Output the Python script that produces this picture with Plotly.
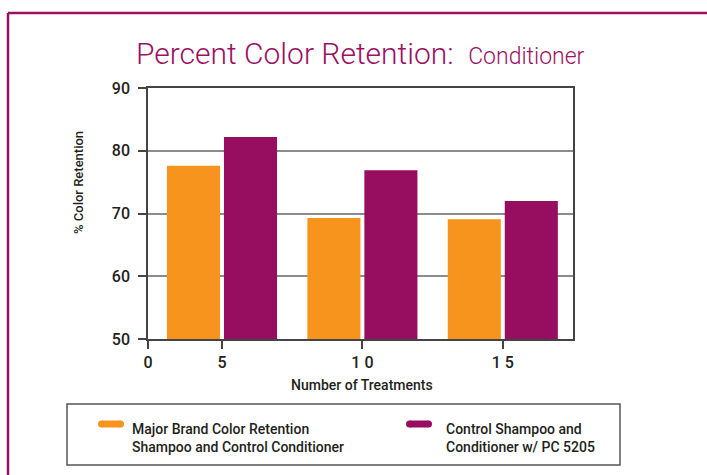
import plotly.graph_objects as go

# ---- data ----
treatments = ["5", "10", "15"]
series_names = [
    "Major Brand Color Retention<br>Shampoo and Control Conditioner",
    "Control Shampoo and<br>Conditioner w/ PC 5205",
]
major_brand = [77.6, 69.3, 69.1]
pc5205 = [82.2, 76.9, 72.0]
x_tick_labels = ["0", "5", "1 0", "1 5"]
y_tick_vals = [50, 60, 70, 80, 90]

ORANGE = "#F7941E"
PURPLE = "#970D5F"
MAGENTA = "#9B1063"
TXT = "#231F20"
FONT = "Roboto, Liberation Sans, sans-serif"

W, H = 707, 475
L, R, T, B = 148, 573, 88, 339  # plot area pixel box


def px(x):
    return (x - L) / (R - L)


def py(y):
    return (B - y) / (B - T)


xpos = list(range(1, len(treatments) + 1))

fig = go.Figure()
fig.add_trace(go.Bar(x=xpos, y=major_brand, name=series_names[0],
                     marker=dict(color=ORANGE, line=dict(width=0)),
                     width=0.378, offset=-0.392))
fig.add_trace(go.Bar(x=xpos, y=pc5205, name=series_names[1],
                     marker=dict(color=PURPLE, line=dict(width=0)),
                     width=0.378, offset=0.014))

fig.update_layout(
    width=W, height=H,
    margin=dict(l=L, r=W - R, t=T, b=H - B),
    paper_bgcolor="white", plot_bgcolor="white",
    showlegend=False,
    barmode="overlay",
    font=dict(family=FONT, color=TXT),
)

fig.update_xaxes(
    range=[0.473, 3.5],
    tickmode="array", tickvals=[0.473] + xpos, ticktext=x_tick_labels,
    ticks="outside", ticklen=8, tickwidth=1.5, tickcolor="#444",
    showline=True, linecolor="#444", linewidth=1.5, mirror=True,
    showgrid=False, zeroline=False,
    tickfont=dict(size=16, color=TXT, family=FONT, weight=500),
)
fig.update_yaxes(
    range=[50, 90],
    tickmode="array", tickvals=y_tick_vals,
    ticks="outside", ticklen=8, tickwidth=1.5, tickcolor="#444",
    showline=True, linecolor="#444", linewidth=1.5, mirror=True,
    showgrid=True, gridcolor="#8C8C8C", gridwidth=2, zeroline=False,
    tickfont=dict(size=16, color=TXT, family=FONT, weight=500),
    ticklabelstandoff=5,
)


def pill(x0, x1, yc, thick, color):
    r = thick / 2
    return [
        dict(type="line", xref="paper", yref="paper", x0=px(x0 + r), x1=px(x1 - r),
             y0=py(yc), y1=py(yc), line=dict(color=color, width=thick)),
        dict(type="circle", xref="paper", yref="paper", x0=px(x0), x1=px(x0 + 2 * r),
             y0=py(yc - r), y1=py(yc + r), fillcolor=color, line=dict(width=0)),
        dict(type="circle", xref="paper", yref="paper", x0=px(x1 - 2 * r), x1=px(x1),
             y0=py(yc - r), y1=py(yc + r), fillcolor=color, line=dict(width=0)),
    ]


shapes = [
    # outer magenta frame
    dict(type="line", xref="paper", yref="paper", x0=px(8), x1=px(720), y0=py(13), y1=py(13),
         line=dict(color=MAGENTA, width=2.5)),
    dict(type="line", xref="paper", yref="paper", x0=px(8), x1=px(8), y0=py(13), y1=py(490),
         line=dict(color=MAGENTA, width=2.5)),
    # legend box
    dict(type="rect", xref="paper", yref="paper", x0=px(67), x1=px(620), y0=py(404), y1=py(465),
         line=dict(color="#555", width=1.5), fillcolor="white"),
]
shapes += pill(98, 124, 424, 7, ORANGE)
shapes += pill(406, 432, 424, 7, PURPLE)

annotations = [
    dict(xref="paper", yref="paper", x=px(360), y=py(54), xanchor="center", yanchor="middle",
         showarrow=False,
         text="Percent Color Retention:  <span style='font-size:23px'>Conditioner</span>",
         font=dict(size=30, color=MAGENTA, family=FONT, weight=300)),
    dict(xref="paper", yref="paper", x=px(78), y=py(183), xanchor="center", yanchor="middle",
         showarrow=False, textangle=-90, text="% Color Retention",
         font=dict(size=13, color=TXT, family=FONT, weight=500)),
    dict(xref="paper", yref="paper", x=px(362), y=py(385), xanchor="center", yanchor="middle",
         showarrow=False, text="Number of Treatments",
         font=dict(size=14, color=TXT, family=FONT, weight=500)),
    dict(xref="paper", yref="paper", x=px(130), y=py(438), xanchor="left", yanchor="middle",
         showarrow=False, align="left", text=series_names[0],
         font=dict(size=14, color=TXT, family=FONT, weight=500)),
    dict(xref="paper", yref="paper", x=px(444), y=py(438), xanchor="left", yanchor="middle",
         showarrow=False, align="left", text=series_names[1],
         font=dict(size=14, color=TXT, family=FONT, weight=500)),
]

fig.update_layout(shapes=shapes, annotations=annotations)
fig.write_html("out.html", config={"displayModeBar": False},
               post_script="document.body.style.margin='0';document.body.style.padding='0';")
